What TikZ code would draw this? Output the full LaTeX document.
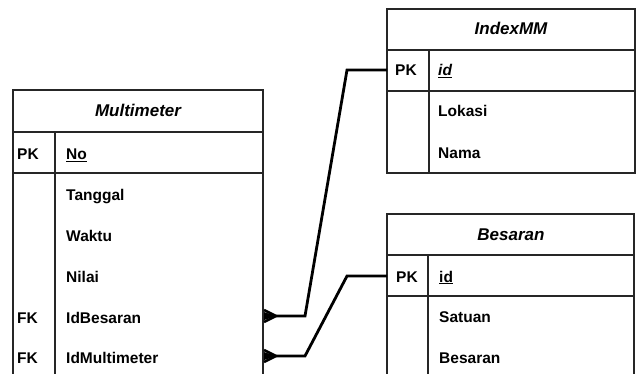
\documentclass[tikz,border=0pt]{standalone}
\usepackage{fontspec}
\setmainfont{Liberation Sans}
\begin{document}
\begin{tikzpicture}[x=1pt,y=-1pt,
  tbl/.style={draw=black!85, line width=1.8pt},
  thin/.style={draw=black!85, line width=1.2pt},
  fld/.style={anchor=base west, inner sep=0pt, font=\fontsize{15.5}{17}\selectfont\bfseries},
  hdr/.style={anchor=base, inner sep=0pt, font=\fontsize{17}{19}\selectfont\bfseries\itshape},
  conn/.style={line width=2.8pt, line join=miter, draw=black},
  foot/.style={line width=2.6pt, draw=black}]
\useasboundingbox (0,0) rectangle (636,374);
\clip (0,0) rectangle (636,374);

% ---------- Multimeter ----------
\coordinate (m-nw) at (13,90);
\coordinate (m-se) at (263,400);
\draw[tbl] (m-nw) rectangle (m-se);
\draw[tbl] (13,132) -- (263,132);
\draw[thin] (13,173) -- (263,173);
\draw[tbl] (55,132) -- (55,400);
\node[hdr] (m-h) at (138,117) {Multimeter};
\node[fld] (m-pk) at (17,160) {PK};
\node[fld] (m-no) at (66,160) {\underline{No}};
\node[fld] (m-tg) at (66,200) {Tanggal};
\node[fld] (m-wk) at (66,241) {Waktu};
\node[fld] (m-nl) at (66,282) {Nilai};
\node[fld] (m-fk1) at (17,323) {FK};
\node[fld] (m-idb) at (66,323) {IdBesaran};
\node[fld] (m-fk2) at (17,363) {FK};
\node[fld] (m-idm) at (66,363) {IdMultimeter};

% ---------- IndexMM ----------
\draw[tbl] (387,9) rectangle (635,173);
\draw[tbl] (387,50) -- (635,50);
\draw[thin] (387,91) -- (635,91);
\draw[tbl] (429,50) -- (429,173);
\node[hdr] (i-h) at (511,35) {IndexMM};
\node[fld] (i-pk) at (395,76) {PK};
\node[fld] (i-id) at (438,76) {\itshape\underline{id}};
\node[fld] (i-lk) at (438,117) {Lokasi};
\node[fld] (i-nm) at (438,158) {Nama};

% ---------- Besaran ----------
\draw[tbl] (387,214) rectangle (634,400);
\draw[tbl] (387,255) -- (634,255);
\draw[thin] (387,296) -- (634,296);
\draw[tbl] (428,255) -- (428,400);
\node[hdr] (b-h) at (511,240) {Besaran};
\node[fld] (b-pk) at (396,282) {PK};
\node[fld] (b-id) at (439,282) {\underline{id}};
\node[fld] (b-st) at (439,322) {Satuan};
\node[fld] (b-bs) at (439,363) {Besaran};

% ---------- connectors ----------
\coordinate (f1) at (276,316);
\coordinate (f2) at (276,356);
\coordinate (ix) at (387,70);
\coordinate (bx) at (387,276);
\draw[foot] (264,310) -- (f1) (264,316) -- (f1) (264,322) -- (f1);
\fill (264,312) -- (f1) -- (264,320) -- cycle;
\draw[foot] (264,350) -- (f2) (264,356) -- (f2) (264,362) -- (f2);
\fill (264,352) -- (f2) -- (264,360) -- cycle;
\draw[conn] (f1) -- (305,316) -- (347,70) -- (ix);
\draw[conn] (f2) -- (305,356) -- (347,276) -- (bx);
\end{tikzpicture}
\end{document}
